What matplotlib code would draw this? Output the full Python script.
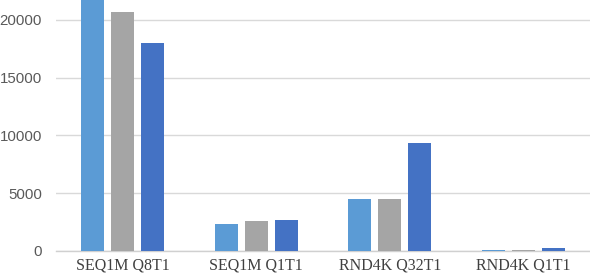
import matplotlib
matplotlib.use("Agg")
import matplotlib.pyplot as plt
import numpy as np

categories = ["SEQ1M Q8T1", "SEQ1M Q1T1", "RND4K Q32T1", "RND4K Q1T1"]
series_a = [21700, 2350, 4480, 100]
series_b = [20700, 2620, 4500, 80]
series_c = [18000, 2680, 9330, 260]
colors = ["#5B9BD5", "#A5A5A5", "#4472C4"]
yticks = [0, 5000, 10000, 15000, 20000]

fig = plt.figure(figsize=(5.9, 2.8), dpi=100)
ax = fig.add_axes([56/590, 29/280, 534/590, 251/280])

x = np.arange(len(categories))
w = 0.172
off = 0.225
for i, (vals, c) in enumerate(zip([series_a, series_b, series_c], colors)):
    ax.bar(x + (i - 1) * off, vals, width=w, color=c, zorder=3)

ax.set_xlim(-0.5, len(categories) - 0.5)
ax.set_ylim(0, 21730)
ax.set_yticks(yticks)
ax.set_yticklabels([str(v) for v in yticks], fontfamily="Liberation Sans",
                   fontsize=10.8, color="#595959")
ax.set_xticks(x)
ax.set_xticklabels(categories, fontfamily="Liberation Serif", fontsize=11.5,
                   color="#404040")
ax.tick_params(axis="both", length=0)
ax.tick_params(axis="y", pad=10)
ax.tick_params(axis="x", pad=5)
ax.grid(axis="y", color="#D9D9D9", linewidth=1, zorder=0)
for s in ["top", "right", "left"]:
    ax.spines[s].set_visible(False)
ax.spines["bottom"].set_color("#D0D0D0")
ax.spines["bottom"].set_linewidth(1)

fig.savefig("out.png", dpi=100, facecolor="white")
